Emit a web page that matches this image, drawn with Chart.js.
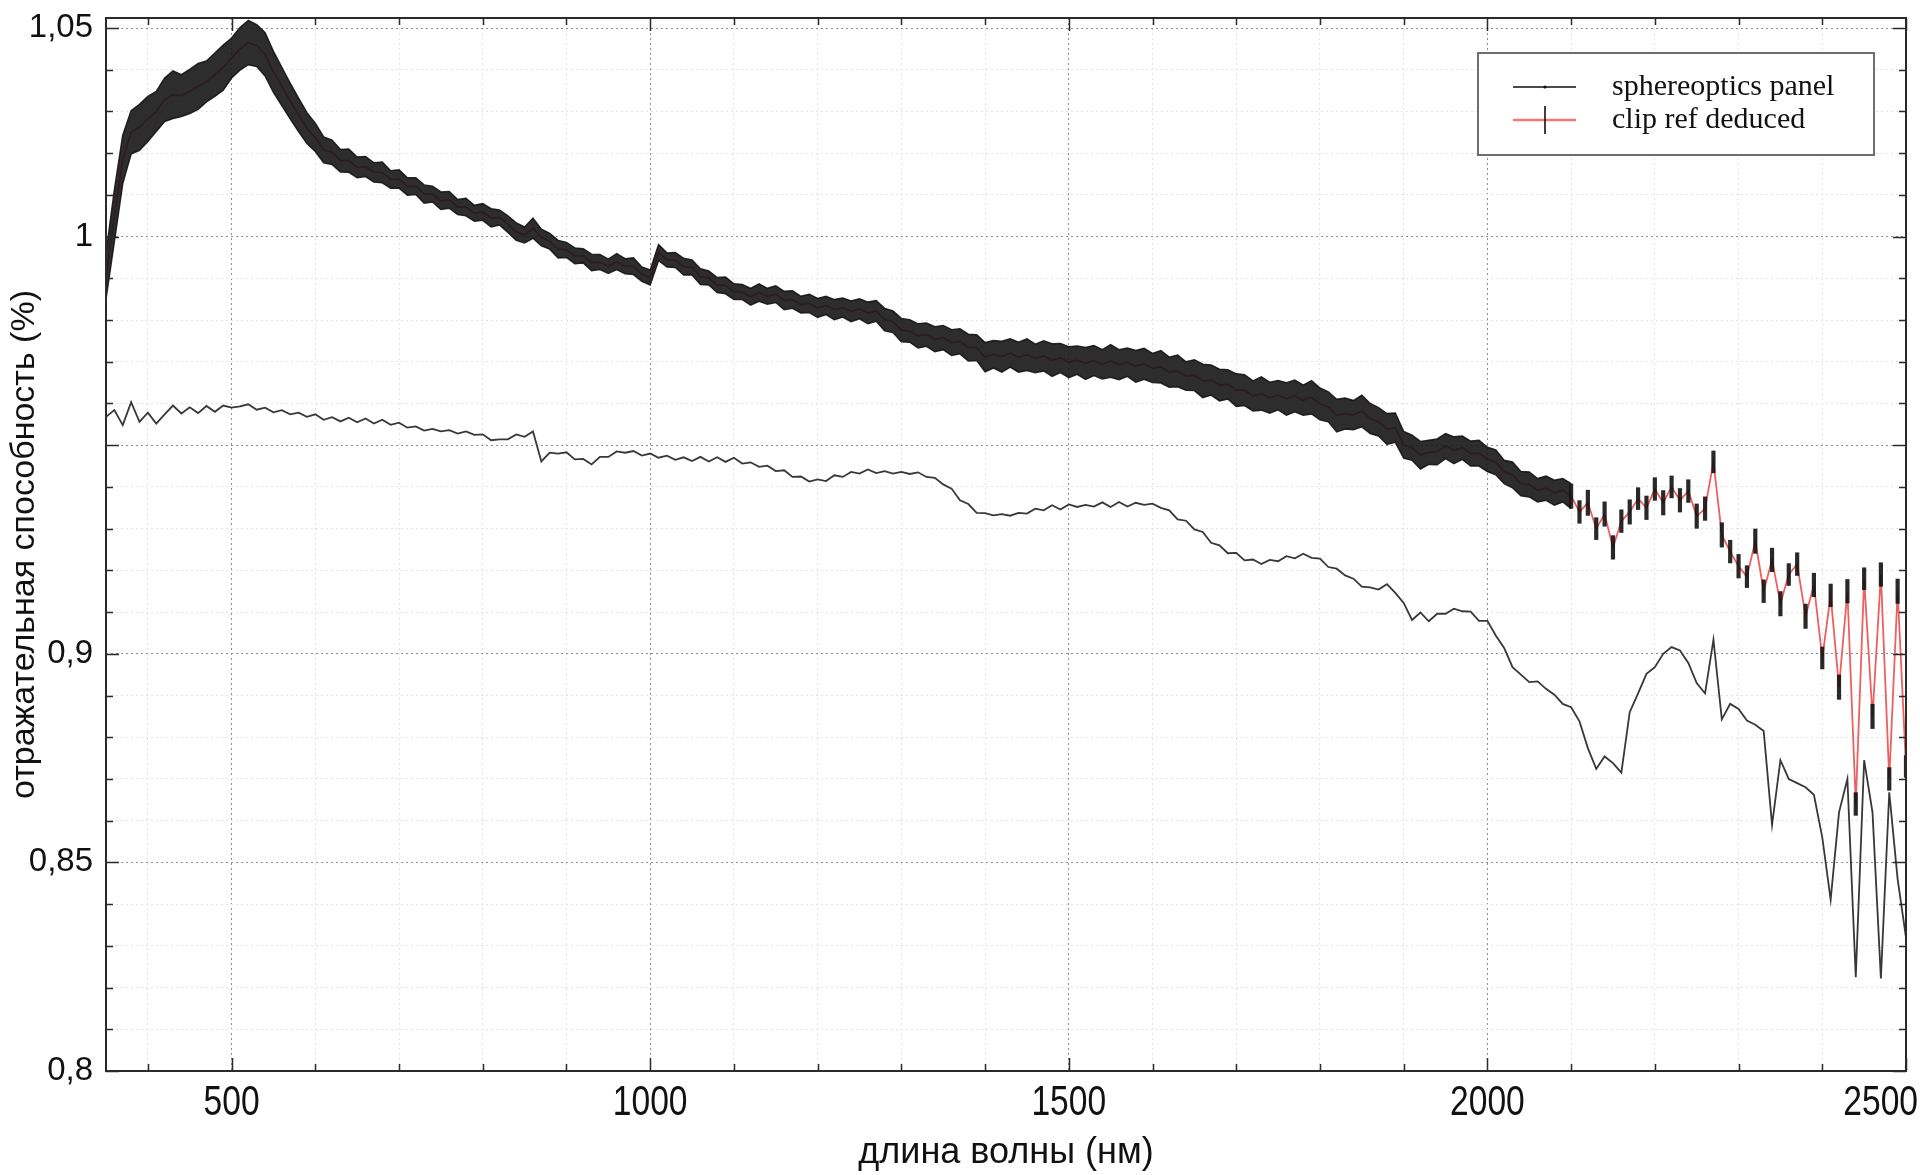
<!DOCTYPE html>
<html>
<head>
<meta charset="utf-8">
<script src="https://cdn.jsdelivr.net/npm/chart.js@4.4.1/dist/chart.umd.min.js"></script>
<style>
  html, body { margin: 0; padding: 0; background: #fff; }
  #wrap { width: 1920px; height: 1175px; }
</style>
</head>
<body>
<div id="wrap"><canvas id="chart" width="1920" height="1175"></canvas></div>
<script>
// ---- data (10 nm steps) ----
const wavelength = [
  350, 360, 370, 380, 390, 400, 410, 420, 430, 440, 450, 460, 470, 480, 490, 500, 510, 520, 530, 540,
  550, 560, 570, 580, 590, 600, 610, 620, 630, 640, 650, 660, 670, 680, 690, 700, 710, 720, 730, 740,
  750, 760, 770, 780, 790, 800, 810, 820, 830, 840, 850, 860, 870, 880, 890, 900, 910, 920, 930, 940,
  950, 960, 970, 980, 990, 1000, 1010, 1020, 1030, 1040, 1050, 1060, 1070, 1080, 1090, 1100, 1110, 1120, 1130, 1140,
  1150, 1160, 1170, 1180, 1190, 1200, 1210, 1220, 1230, 1240, 1250, 1260, 1270, 1280, 1290, 1300, 1310, 1320, 1330, 1340,
  1350, 1360, 1370, 1380, 1390, 1400, 1410, 1420, 1430, 1440, 1450, 1460, 1470, 1480, 1490, 1500, 1510, 1520, 1530, 1540,
  1550, 1560, 1570, 1580, 1590, 1600, 1610, 1620, 1630, 1640, 1650, 1660, 1670, 1680, 1690, 1700, 1710, 1720, 1730, 1740,
  1750, 1760, 1770, 1780, 1790, 1800, 1810, 1820, 1830, 1840, 1850, 1860, 1870, 1880, 1890, 1900, 1910, 1920, 1930, 1940,
  1950, 1960, 1970, 1980, 1990, 2000, 2010, 2020, 2030, 2040, 2050, 2060, 2070, 2080, 2090, 2100, 2110, 2120, 2130, 2140,
  2150, 2160, 2170, 2180, 2190, 2200, 2210, 2220, 2230, 2240, 2250, 2260, 2270, 2280, 2290, 2300, 2310, 2320, 2330, 2340,
  2350, 2360, 2370, 2380, 2390, 2400, 2410, 2420, 2430, 2440, 2450, 2460, 2470, 2480, 2490, 2500
];

const sphereopticsPanel = [
  0.9568, 0.9584, 0.9548, 0.9603, 0.9556, 0.9578, 0.9552, 0.9574, 0.9595, 0.9576,
  0.9591, 0.9577, 0.9594, 0.9580, 0.9595, 0.9590, 0.9593, 0.9598, 0.9585, 0.9590,
  0.9579, 0.9584, 0.9574, 0.9578, 0.9568, 0.9574, 0.9561, 0.9567, 0.9557, 0.9566,
  0.9555, 0.9564, 0.9552, 0.9561, 0.9549, 0.9554, 0.9542, 0.9545, 0.9535, 0.9539,
  0.9533, 0.9536, 0.9528, 0.9533, 0.9525, 0.9526, 0.9512, 0.9514, 0.9514, 0.9526,
  0.9520, 0.9533, 0.9461, 0.9482, 0.9480, 0.9483, 0.9466, 0.9467, 0.9454, 0.9472,
  0.9472, 0.9485, 0.9482, 0.9486, 0.9475, 0.9480, 0.9470, 0.9475, 0.9465, 0.9471,
  0.9462, 0.9472, 0.9461, 0.9471, 0.9460, 0.9470, 0.9456, 0.9459, 0.9448, 0.9451,
  0.9438, 0.9440, 0.9424, 0.9425, 0.9413, 0.9418, 0.9414, 0.9428, 0.9424, 0.9436,
  0.9432, 0.9442, 0.9433, 0.9438, 0.9432, 0.9436, 0.9431, 0.9435, 0.9424, 0.9422,
  0.9406, 0.9396, 0.9368, 0.9359, 0.9338, 0.9337, 0.9332, 0.9335, 0.9331, 0.9338,
  0.9336, 0.9348, 0.9344, 0.9356, 0.9346, 0.9358, 0.9352, 0.9357, 0.9353, 0.9363,
  0.9352, 0.9364, 0.9353, 0.9362, 0.9357, 0.9360, 0.9350, 0.9344, 0.9322, 0.9319,
  0.9298, 0.9292, 0.9266, 0.9260, 0.9241, 0.9242, 0.9224, 0.9226, 0.9215, 0.9225,
  0.9222, 0.9234, 0.9229, 0.9240, 0.9230, 0.9228, 0.9208, 0.9204, 0.9188, 0.9180,
  0.9161, 0.9159, 0.9154, 0.9167, 0.9146, 0.9122, 0.9081, 0.9099, 0.9078, 0.9096,
  0.9096, 0.9108, 0.9102, 0.9101, 0.9079, 0.9079, 0.9044, 0.9014, 0.8968, 0.8950,
  0.8932, 0.8934, 0.8916, 0.8902, 0.8880, 0.8872, 0.8838, 0.8774, 0.8724, 0.8754,
  0.8738, 0.8715, 0.8860, 0.8905, 0.8952, 0.8968, 0.9000, 0.9016, 0.9008, 0.8978,
  0.8930, 0.8905, 0.9034, 0.8843, 0.8880, 0.8868, 0.8840, 0.8830, 0.8815, 0.8590,
  0.8745, 0.8700, 0.8690, 0.8680, 0.8662, 0.8560, 0.8411, 0.8620, 0.8700, 0.8225,
  0.8745, 0.8620, 0.8222, 0.8668, 0.8460, 0.8320
];

const clipRefDeduced = [
  0.9905, 1.0050, 1.0185, 1.0250, 1.0262, 1.0282, 1.0300, 1.0328, 1.0340, 1.0338,
  1.0348, 1.0360, 1.0372, 1.0388, 1.0405, 1.0428, 1.0450, 1.0465, 1.0458, 1.0437,
  1.0395, 1.0360, 1.0325, 1.0292, 1.0260, 1.0238, 1.0208, 1.0202, 1.0182, 1.0182,
  1.0166, 1.0168, 1.0154, 1.0154, 1.0137, 1.0138, 1.0120, 1.0121, 1.0102, 1.0102,
  1.0086, 1.0088, 1.0071, 1.0071, 1.0056, 1.0059, 1.0045, 1.0046, 1.0030, 1.0012,
  1.0004, 1.0020, 0.9998, 0.9989, 0.9970, 0.9968, 0.9954, 0.9954, 0.9938, 0.9939,
  0.9929, 0.9940, 0.9929, 0.9929, 0.9910, 0.9902, 0.9962, 0.9944, 0.9944, 0.9928,
  0.9926, 0.9904, 0.9901, 0.9884, 0.9883, 0.9868, 0.9867, 0.9856, 0.9866, 0.9857,
  0.9862, 0.9847, 0.9849, 0.9837, 0.9840, 0.9829, 0.9835, 0.9825, 0.9830, 0.9821,
  0.9827, 0.9817, 0.9822, 0.9801, 0.9796, 0.9776, 0.9774, 0.9762, 0.9765, 0.9754,
  0.9758, 0.9746, 0.9749, 0.9734, 0.9734, 0.9711, 0.9718, 0.9712, 0.9721, 0.9711,
  0.9717, 0.9708, 0.9714, 0.9704, 0.9709, 0.9699, 0.9704, 0.9696, 0.9703, 0.9694,
  0.9702, 0.9693, 0.9699, 0.9689, 0.9695, 0.9685, 0.9688, 0.9675, 0.9678, 0.9666,
  0.9668, 0.9654, 0.9656, 0.9644, 0.9646, 0.9632, 0.9632, 0.9618, 0.9624, 0.9614,
  0.9620, 0.9611, 0.9618, 0.9608, 0.9615, 0.9599, 0.9592, 0.9571, 0.9576, 0.9572,
  0.9582, 0.9564, 0.9556, 0.9539, 0.9542, 0.9501, 0.9494, 0.9476, 0.9483, 0.9484,
  0.9498, 0.9488, 0.9494, 0.9480, 0.9481, 0.9466, 0.9459, 0.9436, 0.9429, 0.9408,
  0.9406, 0.9392, 0.9397, 0.9386, 0.9392, 0.9378, 0.9340, 0.9362, 0.9300, 0.9335,
  0.9255, 0.9318, 0.9340, 0.9372, 0.9350, 0.9395, 0.9362, 0.9400, 0.9368, 0.9390,
  0.9330, 0.9348, 0.9460, 0.9285, 0.9245, 0.9210, 0.9185, 0.9270, 0.9150, 0.9225,
  0.9120, 0.9190, 0.9215, 0.9090, 0.9165, 0.8990, 0.9140, 0.8920, 0.9150, 0.8640,
  0.9180, 0.8850, 0.9190, 0.8700, 0.9150, 0.8730
];

// half-length of the error bars on clip ref deduced
const clipRefError = [
  0.0055, 0.0062, 0.0058, 0.0052, 0.0055,
  0.0054, 0.0048, 0.0052, 0.0057, 0.0050, 0.0053, 0.0055, 0.0049, 0.0052, 0.0054, 0.0048, 0.0051, 0.0053, 0.0050, 0.0052,
  0.0049, 0.0046, 0.0043, 0.0040, 0.0037,
  0.0034, 0.0031, 0.0029, 0.0027, 0.0028, 0.0025,
  0.0024, 0.0023, 0.0025, 0.0021, 0.0022,
  0.0021, 0.0020, 0.0022, 0.0019, 0.0021, 0.0020, 0.0018, 0.0021, 0.0019, 0.0020,
  0.0022, 0.0018, 0.0020, 0.0021, 0.0019, 0.0024, 0.0020, 0.0019, 0.0021,
  0.0018, 0.0019, 0.0017, 0.0020, 0.0018, 0.0017, 0.0019, 0.0018, 0.0020, 0.0017,
  0.0018, 0.0019, 0.0017, 0.0018, 0.0020, 0.0018, 0.0019, 0.0017, 0.0018, 0.0020,
  0.0019, 0.0018, 0.0020, 0.0021, 0.0019, 0.0020, 0.0022, 0.0021, 0.0020, 0.0022,
  0.0023, 0.0022, 0.0024, 0.0023, 0.0025, 0.0024, 0.0026, 0.0025, 0.0027, 0.0026,
  0.0028, 0.0027, 0.0029, 0.0028, 0.0030, 0.0029, 0.0031, 0.0030, 0.0032, 0.0031,
  0.0035, 0.0033, 0.0037, 0.0034, 0.0036, 0.0038, 0.0034, 0.0036, 0.0039, 0.0035,
  0.0037, 0.0034, 0.0038, 0.0036, 0.0035, 0.0039, 0.0036, 0.0034, 0.0038, 0.0037,
  0.0035, 0.0039, 0.0036, 0.0038, 0.0034, 0.0037, 0.0040, 0.0036, 0.0038, 0.0035,
  0.0039, 0.0037, 0.0036, 0.0040, 0.0037, 0.0035, 0.0039, 0.0038, 0.0036, 0.0040,
  0.0038, 0.0036, 0.0039, 0.0037, 0.0035, 0.0038, 0.0036, 0.0034, 0.0037, 0.0035,
  0.0032, 0.0030, 0.0033, 0.0029, 0.0031, 0.0030, 0.0032, 0.0028, 0.0030, 0.0031,
  0.0029, 0.0030, 0.0028, 0.0031, 0.0029, 0.0030, 0.0028, 0.0029, 0.0030, 0.0028,
  0.0030, 0.0028, 0.0031, 0.0027, 0.0030, 0.0029, 0.0028, 0.0030, 0.0027, 0.0029,
  0.0028, 0.0030, 0.0027, 0.0029, 0.0028, 0.0030, 0.0029, 0.0027, 0.0030, 0.0028,
  0.0029, 0.0027, 0.0030, 0.0028, 0.0029, 0.0030, 0.0027, 0.0028, 0.0030, 0.0029,
  0.0027, 0.0028, 0.0030, 0.0029, 0.0028, 0.0027, 0.0030, 0.0029, 0.0028, 0.0030,
  0.0027
];

// ---- axes ----
const xTickValues = [400, 500, 600, 700, 800, 900, 1000, 1100, 1200, 1300, 1400, 1500,
  1600, 1700, 1800, 1900, 2000, 2100, 2200, 2300, 2400, 2500];
const xLabelValues = [500, 1000, 1500, 2000, 2500];
const xLabelTexts = ['500', '1000', '1500', '2000', '2500'];

const yTickValues = [0.80, 0.81, 0.82, 0.83, 0.84, 0.85, 0.86, 0.87, 0.88, 0.89, 0.90, 0.91, 0.92,
  0.93, 0.94, 0.95, 0.96, 0.97, 0.98, 0.99, 1.00, 1.01, 1.02, 1.03, 1.04, 1.05];
const yMajorValues = [0.80, 0.85, 0.90, 0.95, 1.00, 1.05];
const yLabelValues = [0.80, 0.85, 0.90, 1.00, 1.05];   // 0,95 has no label in the original
const yLabelTexts = ['0,8', '0,85', '0,9', '1', '1,05'];

const seriesNames = ['sphereoptics panel', 'clip ref deduced'];
const denseErrorLimit = 2100;   // up to here the error bars merge into a solid band

const near = (a, b) => Math.abs(a - b) < 1e-6;
const isMajorX = v => xLabelValues.some(m => near(m, v));
const isMajorY = v => yMajorValues.some(m => near(m, v));

// ---- build library data ----
const panelPoints = wavelength.map((w, i) => ({ x: w, y: sphereopticsPanel[i] }));
const clipPoints = wavelength.map((w, i) => ({ x: w, y: clipRefDeduced[i] }));
const errLow = wavelength.map((w, i) => ({ x: w, y: clipRefDeduced[i] - clipRefError[i] }));
const errHigh = wavelength.map((w, i) => ({ x: w, y: clipRefDeduced[i] + clipRefError[i] }));
const bandLow = errLow.filter(p => p.x <= denseErrorLimit);
const bandHigh = errHigh.filter(p => p.x <= denseErrorLimit);
const errBarsLong = wavelength
  .map((w, i) => ({ x: w, y: [errLow[i].y, errHigh[i].y] }))
  .filter(p => p.x >= denseErrorLimit);

// frame + inward tick marks on all four sides
const framePlugin = {
  id: 'frame',
  afterDatasetsDraw(chart) {
    const { ctx, chartArea: a, scales: { x, y } } = chart;
    ctx.save();
    ctx.strokeStyle = '#2a2a2a';
    ctx.lineWidth = 1.5;
    ctx.beginPath();
    xTickValues.forEach(v => {
      const px = Math.round(x.getPixelForValue(v)) + 0.5;
      const len = isMajorX(v) ? 13 : 7;
      ctx.moveTo(px, a.bottom); ctx.lineTo(px, a.bottom - len);
      ctx.moveTo(px, a.top); ctx.lineTo(px, a.top + len);
    });
    yTickValues.forEach(v => {
      const py = Math.round(y.getPixelForValue(v)) + 0.5;
      const len = isMajorY(v) ? 13 : 7;
      ctx.moveTo(a.left, py); ctx.lineTo(a.left + len, py);
      ctx.moveTo(a.right, py); ctx.lineTo(a.right - len, py);
    });
    ctx.stroke();
    ctx.lineWidth = 2;
    ctx.strokeRect(a.left, a.top, a.right - a.left, a.bottom - a.top);
    ctx.restore();
  }
};

// x tick labels in a narrow face; the last one is pulled in to stay on the canvas
const xLabelPlugin = {
  id: 'xLabels',
  afterDraw(chart) {
    const { ctx, scales: { x } } = chart;
    const squeeze = 0.8;
    ctx.save();
    ctx.font = '42px "Liberation Sans", Arial, sans-serif';
    ctx.fillStyle = '#111';
    ctx.textBaseline = 'middle';
    ctx.textAlign = 'center';
    xLabelValues.forEach((v, i) => {
      const w = ctx.measureText(xLabelTexts[i]).width * squeeze;
      const px = Math.min(x.getPixelForValue(v), chart.width - 2 - w / 2);
      ctx.save();
      ctx.translate(px, x.top + 32);
      ctx.scale(squeeze, 1);
      ctx.fillText(xLabelTexts[i], 0, 0);
      ctx.restore();
    });
    ctx.restore();
  }
};

// boxed legend in the upper right corner, serif text like the original
const legendPlugin = {
  id: 'boxLegend',
  afterDraw(chart) {
    const ctx = chart.ctx;
    const box = { left: 1478, top: 53, right: 1874, bottom: 155 };
    ctx.save();
    ctx.fillStyle = '#fff';
    ctx.fillRect(box.left, box.top, box.right - box.left, box.bottom - box.top);
    ctx.strokeStyle = '#6e6e6e';
    ctx.lineWidth = 2;
    ctx.strokeRect(box.left, box.top, box.right - box.left, box.bottom - box.top);

    const rows = [87, 120];
    // sphereoptics panel
    ctx.strokeStyle = '#4a4a4a';
    ctx.lineWidth = 2;
    ctx.beginPath(); ctx.moveTo(1513, rows[0]); ctx.lineTo(1576, rows[0]); ctx.stroke();
    ctx.fillStyle = '#111';
    ctx.beginPath(); ctx.arc(1545, rows[0], 1.6, 0, Math.PI * 2); ctx.fill();
    // clip ref deduced
    ctx.strokeStyle = '#f07a7a';
    ctx.lineWidth = 2.5;
    ctx.beginPath(); ctx.moveTo(1513, rows[1]); ctx.lineTo(1576, rows[1]); ctx.stroke();
    ctx.strokeStyle = '#111';
    ctx.lineWidth = 1.6;
    ctx.beginPath(); ctx.moveTo(1545, rows[1] - 14); ctx.lineTo(1545, rows[1] + 14); ctx.stroke();

    ctx.fillStyle = '#111';
    ctx.font = '30px "Liberation Serif", "DejaVu Serif", serif';
    ctx.textBaseline = 'middle';
    ctx.textAlign = 'left';
    seriesNames.forEach((name, i) => ctx.fillText(name, 1612, rows[i]));
    ctx.restore();
  }
};

new Chart(document.getElementById('chart'), {
  type: 'line',
  data: {
    datasets: [
      {
        label: 'clip error low',
        data: bandLow,
        borderColor: 'rgba(20,20,20,0.9)',
        borderWidth: 1.5,
        pointRadius: 0,
        fill: false,
        order: 1
      },
      {
        label: 'clip error high',
        data: bandHigh,
        borderColor: 'rgba(20,20,20,0.9)',
        backgroundColor: 'rgba(22,22,22,0.9)',
        borderWidth: 1.5,
        pointRadius: 0,
        fill: '-1',
        order: 1
      },
      {
        type: 'bar',
        label: 'clip error bars',
        data: errBarsLong,
        backgroundColor: 'rgba(18,18,18,0.9)',
        borderWidth: 0,
        barPercentage: 0.5,
        categoryPercentage: 1,
        order: 1
      },
      {
        label: seriesNames[1],
        data: clipPoints,
        borderColor: '#ee5f5f',
        borderWidth: 1.8,
        pointRadius: 0,
        tension: 0,
        order: 2
      },
      {
        label: seriesNames[0],
        data: panelPoints,
        borderColor: '#383838',
        borderWidth: 1.8,
        pointRadius: 0,
        tension: 0,
        order: 3
      }
    ]
  },
  options: {
    responsive: false,
    animation: false,
    events: [],
    layout: { padding: { top: 18, right: 14, left: 0, bottom: 0 } },
    plugins: { legend: { display: false }, tooltip: { enabled: false } },
    scales: {
      x: {
        type: 'linear',
        min: 350, max: 2500,
        offset: false,
        afterBuildTicks: s => { s.ticks = xTickValues.map(v => ({ value: v })); },
        afterFit: s => { s.height = 104; s.paddingLeft = 0; s.paddingRight = 0; },
        grid: {
          offset: false,
          drawTicks: false,
          color: c => (c.tick && isMajorX(c.tick.value)) ? '#8e8e8e' : '#e3e3e3',
          lineWidth: 1
        },
        border: { display: false, dash: [2, 3] },
        ticks: { display: false, autoSkip: false, maxRotation: 0 },
        title: {
          display: true,
          text: 'длина волны (нм)',
          color: '#111',
          font: { family: '"Liberation Sans", Arial, sans-serif', size: 36 },
          padding: { top: 0, bottom: 0 }
        }
      },
      y: {
        type: 'linear',
        min: 0.8, max: 1.0524,
        afterBuildTicks: s => { s.ticks = yTickValues.map(v => ({ value: v })); },
        afterFit: s => { s.width = 106; s.paddingTop = 0; s.paddingBottom = 0; },
        grid: {
          drawTicks: false,
          color: c => (c.tick && isMajorY(c.tick.value)) ? '#8e8e8e' : '#e3e3e3',
          lineWidth: 1
        },
        border: { display: false, dash: [2, 3] },
        ticks: {
          autoSkip: false,
          padding: 13,
          color: '#111',
          font: { family: '"Liberation Sans", Arial, sans-serif', size: 33 },
          callback: v => { const i = yLabelValues.findIndex(m => near(m, v)); return i < 0 ? '' : yLabelTexts[i]; }
        },
        title: {
          display: true,
          text: 'отражательная способность (%)',
          color: '#111',
          font: { family: '"Liberation Sans", Arial, sans-serif', size: 34 },
          padding: { top: 4, bottom: 0 }
        }
      }
    }
  },
  plugins: [framePlugin, xLabelPlugin, legendPlugin]
});
</script>
</body>
</html>
